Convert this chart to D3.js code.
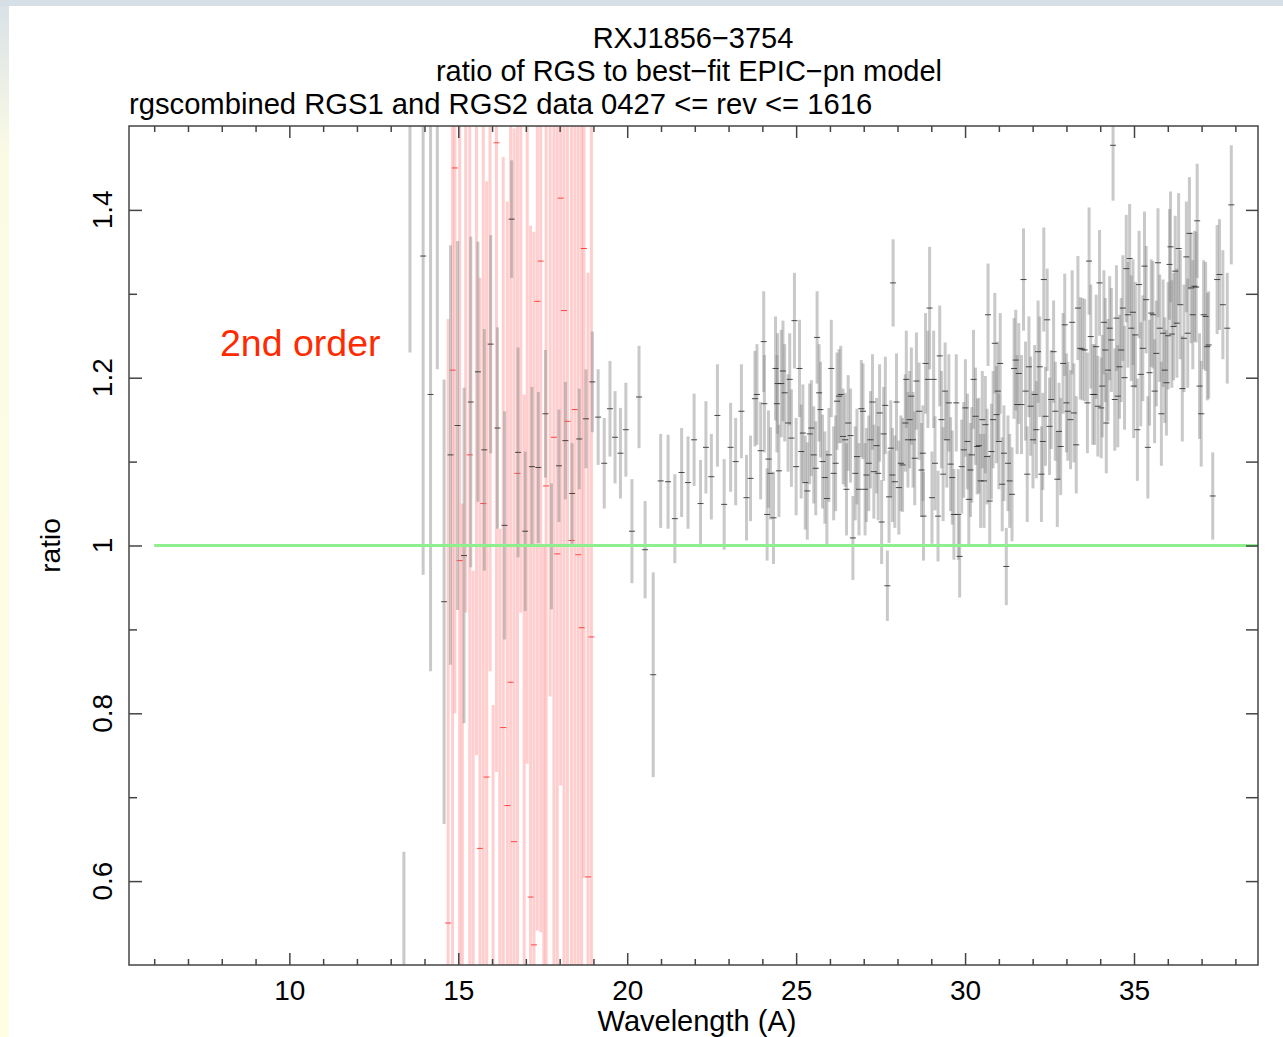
<!DOCTYPE html>
<html>
<head>
<meta charset="utf-8">
<script src="https://cdn.jsdelivr.net/npm/d3@7"></script>
<style>
  body { margin: 0; background: #fff; }
  svg { display: block; font-family: "Liberation Sans", Arial, Helvetica, sans-serif; }
</style>
</head>
<body>
<svg id="chart" width="1283" height="1037"></svg>
<script>
// titles
const titleLines=["RXJ1856\u22123754","ratio of RGS to best\u2212fit EPIC\u2212pn model"];
const subTitle="rgscombined RGS1 and RGS2 data 0427 <= rev <= 1616";
const xLabel="Wavelength (A)";
const yLabel="ratio";
const note="2nd order";

// axis ticks
const xMajor=[10,15,20,25,30,35];
const xMinor=[6,7,8,9,11,12,13,14,16,17,18,19,21,22,23,24,26,27,28,29,31,32,33,34,36,37,38];
const yMajor=[0.6,0.8,1,1.2,1.4];
const yMajorLabels=["0.6","0.8","1","1.2","1.4"];
const yMinor=[0.7,0.9,1.1,1.3];

// model line (ratio = 1)
const modelWave=[6,38.67];
const modelRatio=[1,1];

// 2nd order points (red)
const redWave=[14.70,14.83,14.90,15.04,15.12,15.22,15.34,15.44,15.54,15.64,15.74,15.84,15.94,16.03,16.13,16.23,16.33,16.45,16.55,16.65,16.75,16.85,16.95,17.04,17.14,17.24,17.34,17.44,17.53,17.60,17.72,17.83,17.93,18.03,18.13,18.23,18.35,18.45,18.55,18.65,18.72,18.84,18.94];
const redRatio=[0.55,1.209,1.45,0.982,0.35,1.62,1.108,0.42,1.55,0.639,1.05,0.724,1.60,0.30,1.48,0.40,0.783,0.69,0.837,0.647,1.086,1.58,0.38,1.52,0.581,0.524,1.291,1.339,0.45,1.071,1.60,1.129,0.99,1.414,1.28,1.148,1.006,1.162,0.989,0.902,1.354,0.605,0.891];
const redErr=[0.72,0.80,0.65,0.62,0.70,0.70,0.72,0.55,0.80,0.68,0.60,0.71,0.75,0.51,0.75,0.62,0.68,0.72,0.70,0.85,0.62,0.66,0.80,0.78,0.80,0.85,0.75,0.80,0.55,0.62,0.78,0.70,0.60,0.70,0.85,0.70,0.60,0.75,0.65,0.60,0.75,0.72,0.62];

// 1st order points (grey)
const grayWave=[13.39,13.57,13.96,14.18,14.38,14.58,14.77,14.98,15.17,15.37,15.58,15.77,15.96,16.16,16.37,16.58,16.77,16.98,17.18,17.37,17.58,17.76,17.98,18.17,18.37,18.58,18.78,18.97,19.14,19.32,19.49,19.64,19.80,19.96,20.14,20.35,20.53,20.77,20.99,21.21,21.41,21.61,21.80,21.98,22.17,22.33,22.49,22.67,22.87,23.06,23.21,23.38,23.53,23.65,23.78,23.84,
23.95,24.04,24.06,24.14,24.18,24.24,24.33,24.39,24.43,24.45,24.49,24.56,24.61,24.66,24.76,24.81,24.86,24.95,25.00,25.10,25.15,25.20,25.27,25.33,25.40,25.45,25.52,25.58,25.62,25.68,25.72,25.78,25.85,25.91,25.97,26.04,26.11,26.17,26.21,26.27,26.32,26.39,26.45,26.49,26.54,26.61,26.68,26.75,26.80,26.86,26.93,26.98,27.04,27.08,27.15,27.20,27.26,27.30,27.38,27.43,27.47,27.53,27.59,27.64,27.70,27.75,27.80,27.85,27.87,27.92,27.97,28.04,28.10,28.15,28.23,28.26,28.31,28.36,28.41,28.46,28.51,28.56,28.64,28.71,28.75,28.77,28.83,28.90,28.95,29.02,29.07,29.11,29.20,29.25,29.30,29.35,29.41,29.46,29.52,29.57,29.62,29.67,29.74,29.80,29.84,29.90,29.96,
30.01,30.07,30.11,30.16,30.20,30.25,30.31,30.36,30.41,30.46,30.51,30.56,30.60,30.65,30.68,30.73,30.78,30.83,30.88,30.93,30.97,31.00,31.04,31.10,31.15,31.22,31.27,31.32,31.39,31.45,31.50,31.54,31.59,31.67,31.73,31.79,31.84,31.89,31.94,32.01,32.06,32.11,32.16,32.21,32.26,32.30,32.33,32.38,32.43,32.50,32.55,32.62,32.67,32.73,32.78,32.83,32.90,32.95,33.00,33.04,33.12,33.17,33.22,33.29,33.34,33.41,33.47,33.54,33.62,33.67,33.72,33.78,33.83,33.88,33.93,33.98,34.03,34.06,34.11,34.15,34.18,34.23,34.28,34.33,34.38,34.43,34.48,34.52,34.57,34.62,34.67,34.72,34.77,34.82,34.87,34.92,34.97,34.99,
35.04,35.10,35.15,35.20,35.26,35.31,35.36,35.41,35.46,35.51,35.56,35.61,35.66,35.71,35.76,35.81,35.86,35.91,35.96,36.01,36.05,36.08,36.12,36.17,36.22,36.27,36.32,36.37,36.43,36.48,36.55,36.59,36.64,36.69,36.74,36.79,36.84,36.87,36.94,36.99,37.06,37.12,37.17,37.21,37.33,37.46,37.53,37.63,37.76,37.88];
const grayRatio=[0.47,1.55,1.345,1.18,1.58,0.933,1.108,1.143,0.988,1.171,1.207,1.114,1.24,1.14,1.024,1.389,1.111,1.017,1.094,1.093,1.157,0.999,1.095,1.125,1.062,1.127,1.151,1.195,1.153,1.098,1.163,1.129,1.11,1.138,1.017,1.177,0.995,0.846,1.077,1.076,1.032,1.087,1.075,1.126,1.05,1.117,1.082,1.155,1.049,1.117,1.10,1.16,1.057,1.08,1.175,1.18,
1.113,1.243,1.169,1.037,1.103,1.086,1.033,1.211,1.169,1.193,1.089,1.193,1.208,1.182,1.146,1.198,1.128,1.268,1.094,1.211,1.112,1.134,1.075,1.065,1.133,1.14,1.108,1.092,1.248,1.182,1.162,1.10,1.081,1.056,1.108,1.211,1.086,1.098,1.172,1.178,1.18,1.13,1.126,1.067,1.146,1.131,1.009,1.086,1.106,1.067,1.163,1.16,1.067,1.084,1.098,1.126,1.171,1.088,1.119,1.086,1.158,1.028,1.133,1.167,0.952,1.058,1.116,1.084,1.313,1.076,1.171,1.069,1.098,1.096,1.146,1.198,1.126,1.15,1.178,1.126,1.104,1.196,1.16,1.09,1.11,1.035,1.217,1.198,1.283,1.057,1.198,1.098,1.035,1.226,1.15,1.085,1.184,1.126,1.17,1.097,1.081,1.037,1.17,1.037,0.987,1.094,1.114,
1.164,1.124,1.055,1.09,1.108,1.198,1.154,1.118,1.119,1.077,1.15,1.077,1.144,1.106,1.275,1.053,1.112,1.15,1.241,1.156,1.184,1.124,1.217,1.073,1.11,0.975,1.098,1.077,1.061,1.211,1.221,1.168,1.205,1.168,1.317,1.184,1.085,1.213,1.166,1.126,1.18,1.138,1.231,1.213,1.085,1.124,1.317,1.154,1.269,1.142,1.174,1.231,1.16,1.079,1.136,1.118,1.217,1.263,1.17,1.16,1.15,1.266,1.158,1.12,1.283,1.235,1.234,1.233,1.17,1.339,1.249,1.18,1.18,1.237,1.166,1.313,1.164,1.19,1.266,1.233,1.146,1.209,1.259,1.245,1.477,1.174,1.271,1.178,1.213,1.233,1.283,1.20,1.33,1.275,1.342,1.259,1.278,1.19,
1.251,1.138,1.311,1.204,1.235,1.333,1.293,1.117,1.206,1.277,1.275,1.184,1.229,1.337,1.259,1.157,1.253,1.209,1.194,1.25,1.335,1.356,1.252,1.261,1.327,1.265,1.354,1.287,1.187,1.247,1.344,1.253,1.372,1.307,1.275,1.309,1.308,1.387,1.19,1.157,1.275,1.273,1.237,1.239,1.059,1.317,1.323,1.287,1.259,1.406];
const grayErr=[0.165,0.32,0.38,0.33,0.37,0.265,0.25,0.22,0.20,0.197,0.155,0.144,0.13,0.12,0.136,0.07,0.125,0.095,0.095,0.09,0.076,0.075,0.067,0.07,0.06,0.06,0.059,0.06,0.057,0.054,0.057,0.055,0.054,0.056,0.062,0.061,0.058,0.122,0.056,0.056,0.053,0.053,0.055,0.055,0.052,0.055,0.051,0.061,0.054,0.053,0.052,0.056,0.051,0.051,0.057,0.06,
0.058,0.06,0.058,0.055,0.058,0.055,0.055,0.062,0.058,0.06,0.055,0.064,0.06,0.058,0.058,0.055,0.058,0.057,0.058,0.058,0.056,0.058,0.056,0.058,0.06,0.057,0.058,0.056,0.055,0.058,0.057,0.056,0.055,0.057,0.056,0.058,0.056,0.057,0.058,0.056,0.058,0.057,0.056,0.055,0.057,0.056,0.05,0.056,0.057,0.055,0.058,0.057,0.055,0.056,0.057,0.058,0.057,0.056,0.057,0.056,0.058,0.05,0.056,0.058,0.042,0.055,0.057,0.056,0.052,0.055,0.058,0.056,0.057,0.056,0.058,0.058,0.057,0.058,0.058,0.057,0.056,0.058,0.058,0.056,0.057,0.053,0.06,0.058,0.073,0.055,0.058,0.056,0.054,0.06,0.058,0.056,0.058,0.057,0.058,0.056,0.056,0.054,0.058,0.054,0.049,0.056,0.057,
0.058,0.057,0.055,0.056,0.057,0.059,0.058,0.057,0.057,0.056,0.058,0.056,0.058,0.057,0.061,0.055,0.057,0.058,0.06,0.058,0.059,0.057,0.06,0.056,0.057,0.046,0.057,0.056,0.056,0.06,0.06,0.059,0.06,0.059,0.061,0.059,0.057,0.06,0.059,0.058,0.059,0.058,0.061,0.06,0.057,0.058,0.062,0.059,0.061,0.058,0.059,0.061,0.059,0.057,0.058,0.058,0.06,0.061,0.059,0.059,0.059,0.062,0.059,0.058,0.062,0.061,0.061,0.061,0.06,0.064,0.062,0.06,0.06,0.062,0.06,0.063,0.06,0.061,0.062,0.062,0.06,0.061,0.062,0.062,0.066,0.061,0.063,0.061,0.062,0.062,0.063,0.062,0.064,0.063,0.065,0.063,0.063,0.062,
0.063,0.061,0.064,0.062,0.063,0.065,0.064,0.061,0.063,0.064,0.064,0.062,0.063,0.065,0.064,0.062,0.064,0.063,0.063,0.064,0.066,0.066,0.064,0.064,0.066,0.065,0.066,0.065,0.063,0.064,0.066,0.065,0.067,0.066,0.065,0.066,0.066,0.068,0.063,0.063,0.065,0.065,0.064,0.064,0.052,0.065,0.066,0.065,0.066,0.071];

const svg=d3.select("#chart");
const W=1283,H=1037;
const plotLeft=129,plotRight=1258,plotTop=126,plotBottom=965;

// page background: pale frame like the slide it came from
const defs=svg.append("defs");
const grad=defs.append("linearGradient").attr("id","edge").attr("x1",0).attr("y1",0).attr("x2",0).attr("y2",1);
grad.append("stop").attr("offset","0").attr("stop-color","#d9e1e8");
grad.append("stop").attr("offset","0.15").attr("stop-color","#fbfbe4");
grad.append("stop").attr("offset","1").attr("stop-color","#fffee2");
svg.append("rect").attr("width",W).attr("height",H).attr("fill","url(#edge)");
svg.append("rect").attr("width",W).attr("height",6).attr("fill","#d7dfe6");
svg.append("rect").attr("x",9).attr("y",6).attr("width",W-9).attr("height",H-6).attr("fill","#fff");

defs.append("clipPath").attr("id","plot")
  .append("rect").attr("x",plotLeft).attr("y",plotTop).attr("width",plotRight-plotLeft).attr("height",plotBottom-plotTop);

let x=d3.scaleLinear().domain([5.254,38.67]).range([plotLeft,plotRight]);
let y=d3.scaleLinear().domain([0.5,1.5]).range([plotBottom,plotTop]);

const plot=svg.append("g").attr("clip-path","url(#plot)");

const drawBars=(wave,ratio,err,barColor,barOpacity,markColor)=>{
  let g=plot.append("g");
  g.selectAll("line.bar")
    .data(wave)
    .enter()
      .append("line")
      .attr("class","bar")
      .attr("x1",(d)=>x(d))
      .attr("x2",(d)=>x(d))
      .attr("y1",(d,i)=>y(ratio[i]-err[i]))
      .attr("y2",(d,i)=>y(ratio[i]+err[i]))
      .attr("stroke",barColor)
      .attr("stroke-opacity",barOpacity)
      .attr("stroke-width",3);
  g.selectAll("line.mark")
    .data(wave)
    .enter()
      .append("line")
      .attr("class","mark")
      .attr("x1",(d)=>x(d)-3)
      .attr("x2",(d)=>x(d)+3)
      .attr("y1",(d,i)=>y(ratio[i]))
      .attr("y2",(d,i)=>y(ratio[i]))
      .attr("stroke",markColor)
      .attr("stroke-opacity",0.8)
      .attr("stroke-width",1);
}

drawBars(redWave,redRatio,redErr,"#ff5050",0.28,"#ff2020");
drawBars(grayWave,grayRatio,grayErr,"#888",0.45,"#222");

// model line
plot.append("path")
  .datum(modelWave)
  .attr("d",d3.line().x((d)=>x(d)).y((d,i)=>y(modelRatio[i])))
  .attr("stroke","#8eef8e")
  .attr("stroke-width",3)
  .attr("fill","none");

// frame and ticks
const axisColor="#444";
const styleAxis=(g)=>{
  g.select(".domain").remove();
  g.attr("font-family",null);
  g.selectAll(".tick line").attr("stroke",axisColor).attr("stroke-width",1.5);
  g.selectAll(".tick text").attr("fill","#000").attr("font-size",28);
}
svg.append("g").attr("transform",`translate(0,${plotBottom})`)
  .call(d3.axisBottom(x).tickValues(xMajor).tickSize(-12).tickPadding(15).tickFormat(d3.format("d")))
  .call(styleAxis);
svg.append("g").attr("transform",`translate(0,${plotBottom})`)
  .call(d3.axisBottom(x).tickValues(xMinor).tickSize(-6).tickFormat(""))
  .call(styleAxis);
svg.append("g").attr("transform",`translate(0,${plotTop})`)
  .call(d3.axisTop(x).tickValues(xMajor).tickSize(-12).tickFormat(""))
  .call(styleAxis);
svg.append("g").attr("transform",`translate(0,${plotTop})`)
  .call(d3.axisTop(x).tickValues(xMinor).tickSize(-6).tickFormat(""))
  .call(styleAxis);
svg.append("g").attr("transform",`translate(${plotLeft},0)`)
  .call(d3.axisLeft(y).tickValues(yMajor).tickSize(-13).tickFormat(""))
  .call(styleAxis);
svg.append("g").attr("transform",`translate(${plotLeft},0)`)
  .call(d3.axisLeft(y).tickValues(yMinor).tickSize(-8).tickFormat(""))
  .call(styleAxis);
svg.append("g").attr("transform",`translate(${plotRight},0)`)
  .call(d3.axisRight(y).tickValues(yMajor.concat(yMinor)).tickSize(-12).tickFormat(""))
  .call(styleAxis);
svg.append("rect")
  .attr("x",plotLeft).attr("y",plotTop)
  .attr("width",plotRight-plotLeft).attr("height",plotBottom-plotTop)
  .attr("fill","none").attr("stroke",axisColor).attr("stroke-width",1.5);

// rotated y tick labels
svg.append("g").selectAll("text")
  .data(yMajor)
  .enter()
    .append("text")
    .attr("transform",(d)=>`translate(112,${y(d)}) rotate(-90)`)
    .attr("text-anchor","middle")
    .attr("font-size",28)
    .text((d,i)=>yMajorLabels[i]);

svg.append("text")
  .attr("transform",`translate(60,${y(1)}) rotate(-90)`)
  .attr("text-anchor","middle")
  .attr("font-size",28)
  .text(yLabel);

svg.append("text")
  .attr("x",697).attr("y",1031)
  .attr("text-anchor","middle")
  .attr("font-size",29)
  .text(xLabel);

// titles
svg.append("text").attr("x",693).attr("y",48).attr("text-anchor","middle").attr("font-size",29).text(titleLines[0]);
svg.append("text").attr("x",689).attr("y",81).attr("text-anchor","middle").attr("font-size",29).text(titleLines[1]);
svg.append("text").attr("x",129).attr("y",114).attr("font-size",29.2).text(subTitle);

svg.append("text")
  .attr("x",220).attr("y",356)
  .attr("font-size",37.5)
  .attr("fill","#ff2a00")
  .text(note);
</script>
</body>
</html>
